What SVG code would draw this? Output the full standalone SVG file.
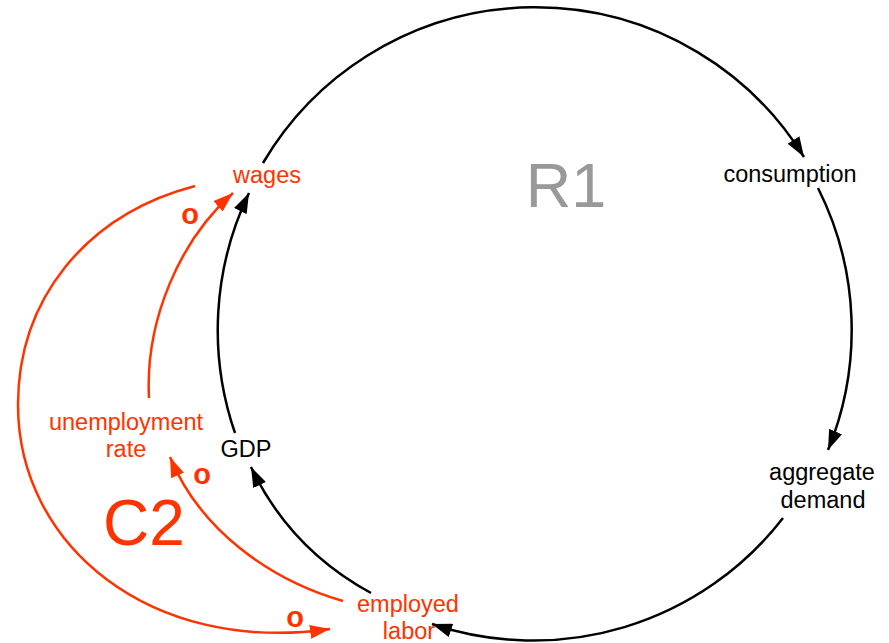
<svg xmlns="http://www.w3.org/2000/svg" width="889" height="643" viewBox="0 0 889 643">
<defs>
<marker id="ab" markerUnits="userSpaceOnUse" markerWidth="20" markerHeight="14" refX="20" refY="7" orient="auto"><path d="M0,0 L20,7 L0,14 z" fill="#000"/></marker>
<marker id="ar" markerUnits="userSpaceOnUse" markerWidth="20" markerHeight="14" refX="20" refY="7" orient="auto"><path d="M0,0 L20,7 L0,14 z" fill="#ff3300"/></marker>
<style>
text{font-family:"Liberation Sans",Arial,sans-serif;font-size:23.5px;text-anchor:middle}
.k{fill:#000}
.r{fill:#ff3300}
.pol{font-weight:bold;font-size:29px;fill:#ff3300}
.lb{fill:none;stroke:#000;stroke-width:2.5}
.lr{fill:none;stroke:#ff3300;stroke-width:2.5}
</style>
</defs>
<rect width="889" height="643" fill="#fff"/>
<g id="connectors">
<path class="lb" marker-end="url(#ab)" d="M263,163 A316,316 0 0 1 804,157"/>
<path class="lb" marker-end="url(#ab)" d="M818,188 A316,316 0 0 1 828,450"/>
<path class="lb" marker-end="url(#ab)" d="M783,518 A316,316 0 0 1 432,624"/>
<path class="lb" marker-end="url(#ab)" d="M371,593 Q290,549 251,467"/>
<path class="lb" marker-end="url(#ab)" d="M235,433 A316,316 0 0 1 249,193"/>
<path class="lr" marker-end="url(#ar)" d="M149,398 C145,320 180,240 233,193"/>
<path class="lr" marker-end="url(#ar)" d="M343,601 C270,580 200,530 170,457"/>
<path class="lr" marker-end="url(#ar)" d="M195,186 C85,215 18,300 18,405 C18,545 150,655 330,629"/>
<text class="pol" x="190" y="224">o</text>
<text class="pol" x="202" y="484">o</text>
<text class="pol" x="295" y="627">o</text>
</g>
<g id="wages"><text class="r" x="267" y="183">wages</text></g>
<g id="consumption"><text class="k" x="790" y="182">consumption</text></g>
<g id="aggregate-demand"><text class="k" x="822" y="480">aggregate</text><text class="k" x="823" y="508">demand</text></g>
<g id="employed-labor"><text class="r" x="408" y="612">employed</text><text class="r" x="409" y="639">labor</text></g>
<g id="gdp"><text class="k" x="246" y="457">GDP</text></g>
<g id="unemployment-rate"><text class="r" x="126" y="430">unemployment</text><text class="r" x="126" y="457">rate</text></g>
<g id="R1"><text x="566" y="207" style="font-size:63px;fill:#999999">R1</text></g>
<g id="C2"><text x="144" y="545" style="font-size:64px;fill:#ff3300">C2</text></g>
</svg>
